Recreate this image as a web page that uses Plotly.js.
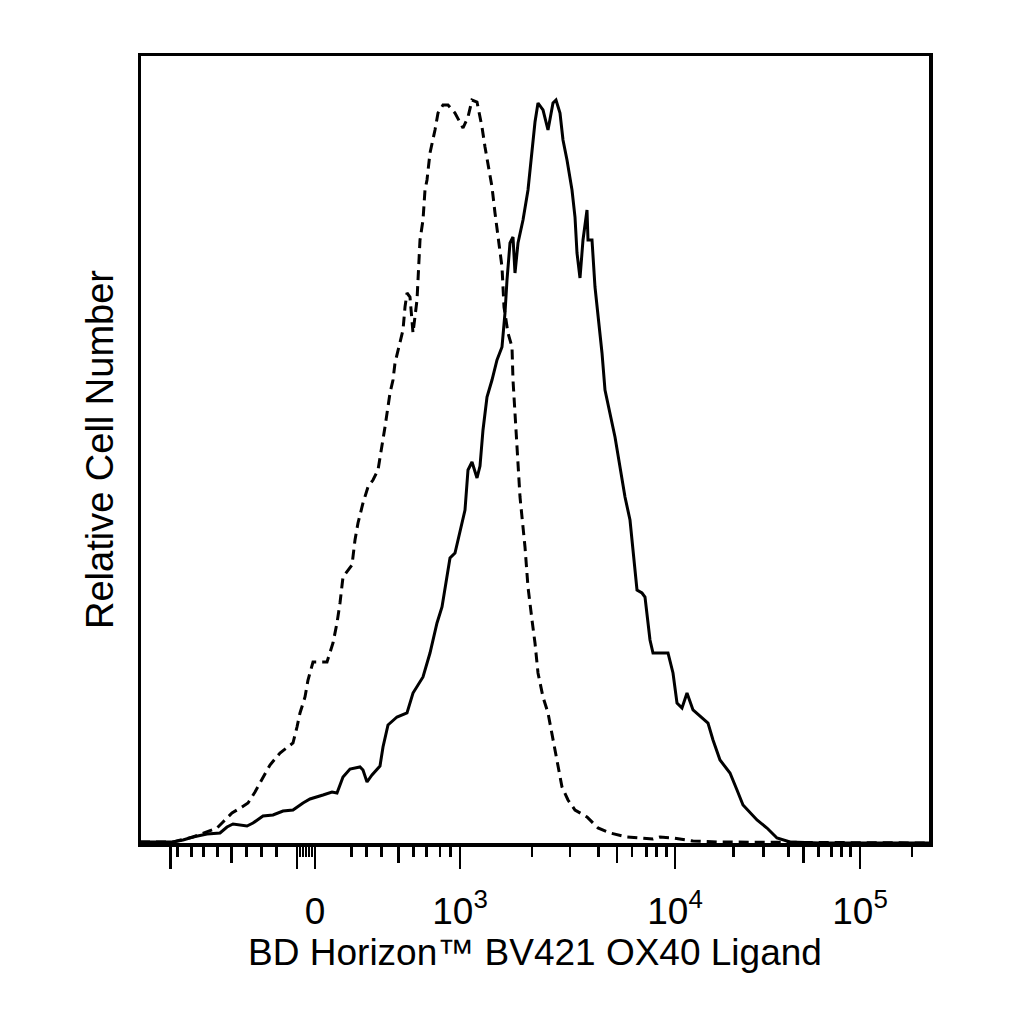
<!DOCTYPE html>
<html>
<head>
<meta charset="utf-8">
<script src="https://cdn.plot.ly/plotly-3.0.1.min.js"></script>
<style>
  body { margin: 0; background: #fff; }
  #histChart { width: 1024px; height: 1024px; }
</style>
</head>
<body>
<div id="histChart"></div>
<script>
// Data (x in display channels of the biexponential scale, y in relative counts)
var stainedX = [0, 33, 43, 53, 67, 80, 87, 93, 107, 113, 123, 133, 143, 153, 163, 170, 183, 192, 197, 203,
    210, 220, 223, 227, 232, 240, 243, 248, 257, 267, 273, 283, 290, 297, 302, 310, 315, 320, 325, 328,
    332, 337, 340, 343, 347, 352, 357, 362, 365, 367, 370, 373, 375, 378, 383, 388, 392, 395, 398, 403,
    408, 413, 416, 420, 423, 427, 432, 435, 437, 440, 443, 447, 448, 452, 455, 458, 462, 465, 470, 475,
    480, 485, 490, 493, 497, 502, 505, 510, 513, 528, 533, 537, 542, 547, 553, 568, 573, 580, 590, 597,
    603, 617, 627, 637, 650, 680, 789];
var stainedY = [3, 3, 5, 8, 11, 12, 18, 21, 19, 22, 29, 30, 34, 35, 42, 46, 50, 53, 52, 68,
    76, 78, 75, 63, 70, 79, 98, 120, 128, 132, 152, 168, 192, 222, 238, 287, 292, 315, 335, 375,
    383, 367, 379, 415, 448, 465, 485, 498, 532, 565, 602, 608, 572, 602, 625, 655, 695, 723, 742, 735,
    715, 742, 745, 732, 705, 685, 655, 628, 592, 567, 605, 635, 605, 605, 558, 532, 492, 455, 432, 408,
    378, 348, 325, 295, 255, 252, 248, 205, 192, 192, 172, 142, 137, 152, 135, 122, 105, 85, 72, 55,
    40, 25, 17, 7, 3, 2, 2];

var controlX = [0, 33, 53, 67, 77, 83, 92, 102, 108, 115, 123, 130, 140, 153, 157, 160, 165, 168, 173, 187,
    193, 197, 200, 203, 212, 215, 218, 223, 228, 233, 238, 242, 245, 250, 253, 255, 259, 263, 265, 267,
    270, 273, 277, 278, 280, 283, 285, 287, 290, 295, 298, 303, 308, 315, 323, 328, 332, 337, 342, 345,
    348, 352, 355, 358, 362, 364, 368, 372, 373, 376, 378, 380, 385, 388, 392, 395, 398, 403, 408, 413,
    418, 422, 428, 435, 447, 458, 470, 487, 513, 520, 533, 553, 580, 789];
var controlY = [3, 3, 8, 13, 17, 23, 32, 38, 42, 53, 68, 80, 92, 102, 118, 132, 148, 165, 183, 183,
    202, 222, 242, 268, 280, 305, 322, 342, 358, 365, 375, 398, 418, 452, 465, 482, 498, 515, 538, 552,
    548, 512, 545, 568, 605, 625, 655, 665, 692, 715, 732, 740, 740, 732, 717, 728, 745, 743, 718, 698,
    682, 658, 632, 608, 578, 538, 512, 498, 465, 415, 382, 348, 298, 258, 225, 202, 172, 148, 132, 105,
    82, 58, 45, 35, 28, 17, 12, 8, 6, 8, 7, 4, 3, 2];

// Ticks of the biexponential axis
var labelTickVals = [175, 320, 535, 720];
var labelTickText = ["0", "10<sup>3</sup>", "10<sup>4</sup>", "10<sup>5</sup>"];
var plainLongTickVals = [30.7, 157];
var mediumTickVals = [91.7, 258.3, 477, 663.3];
var minorTickVals = [37.7, 51.7, 63.3, 77.3, 106.7, 121.7, 136.7, 160, 163, 166, 169, 172,
    211.7, 226.7, 241.7, 273.3, 286.7, 300, 310.7, 392, 430, 458.3, 492, 506.7, 516.7, 526.7,
    593.3, 623.3, 648.3, 678.3, 691.7, 701.7, 710.7, 772];

var xTitle = "BD Horizon™ BV421 OX40 Ligand";
var yTitle = "Relative Cell Number";

var fontFamily = "Liberation Sans, Arial, Helvetica, sans-serif";
var xRange = [1, 789];
var yRange = [2, 789];

// extra bottom axis that only carries ticks
function tickOnlyAxis(vals, len) {
    return {
        overlaying: "x",
        anchor: "y",
        side: "bottom",
        range: xRange,
        showgrid: false,
        zeroline: false,
        showline: true,
        linecolor: "black",
        linewidth: 3.5,
        ticks: "outside",
        tickmode: "array",
        tickvals: vals,
        ticklen: len,
        tickwidth: 2.5,
        tickcolor: "black",
        showticklabels: false
    };
}

function plotHistogram() {
    var control = {
        x: controlX,
        y: controlY,
        type: "scatter",
        mode: "lines",
        line: { color: "black", width: 3, dash: "10px,6px" },
        hoverinfo: "skip"
    };
    var stained = {
        x: stainedX,
        y: stainedY,
        type: "scatter",
        mode: "lines",
        line: { color: "black", width: 3 },
        hoverinfo: "skip"
    };
    // empty traces so the overlay tick axes get drawn
    var holder2 = { x: [], y: [], xaxis: "x2", type: "scatter", mode: "lines", hoverinfo: "skip" };
    var holder3 = { x: [], y: [], xaxis: "x3", type: "scatter", mode: "lines", hoverinfo: "skip" };

    var layout = {
        width: 1024,
        height: 1024,
        paper_bgcolor: "white",
        plot_bgcolor: "white",
        showlegend: false,
        margin: { l: 141, r: 95, t: 56, b: 181, pad: 0 },
        font: { family: fontFamily, color: "black" },
        xaxis: {
            range: xRange,
            showgrid: false,
            zeroline: false,
            showline: true,
            mirror: true,
            linecolor: "black",
            linewidth: 3.5,
            ticks: "outside",
            tickmode: "array",
            tickvals: labelTickVals,
            ticktext: labelTickText,
            ticklen: 22,
            tickwidth: 2.5,
            tickcolor: "black",
            ticklabelstandoff: 11,
            tickfont: { size: 37, family: fontFamily },
            minor: {
                tickmode: "array",
                tickvals: minorTickVals,
                ticks: "outside",
                ticklen: 10,
                tickwidth: 2.5,
                tickcolor: "black",
                showgrid: false
            },
            title: { text: xTitle, font: { size: 37, family: fontFamily }, standoff: 0 }
        },
        xaxis2: tickOnlyAxis(mediumTickVals, 16),
        xaxis3: tickOnlyAxis(plainLongTickVals, 22),
        yaxis: {
            range: yRange,
            showgrid: false,
            zeroline: false,
            showline: true,
            mirror: true,
            linecolor: "black",
            linewidth: 3.5,
            ticks: "",
            showticklabels: false,
            title: { text: yTitle, font: { size: 38, family: fontFamily }, standoff: 13 }
        }
    };
    Plotly.newPlot("histChart", [control, stained, holder2, holder3], layout, { staticPlot: true });
}
plotHistogram();
</script>
</body>
</html>
